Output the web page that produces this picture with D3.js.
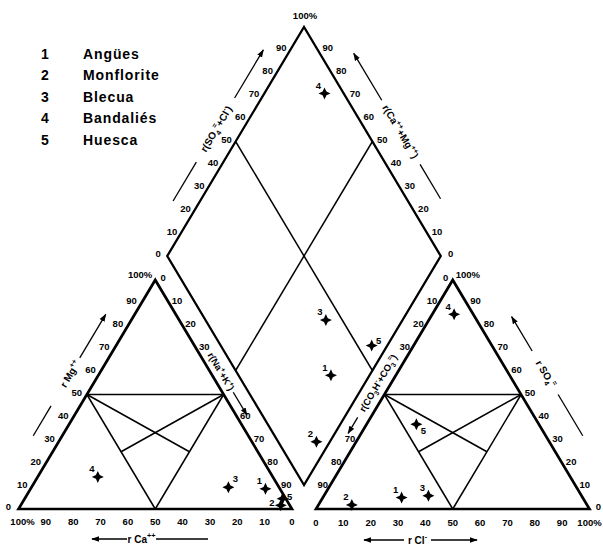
<!DOCTYPE html>
<html><head><meta charset="utf-8">
<script src="https://cdn.jsdelivr.net/npm/d3@7"></script>
<style>html,body{margin:0;padding:0;background:#fff;} svg{display:block;}</style>
</head><body><svg id="chart" width="603" height="545"></svg>
<script>
// ---------------- data ----------------
const sampleIds   = ['1', '2', '3', '4', '5'];
const sampleNames = ['Angües', 'Monflorite', 'Blecua', 'Bandaliés', 'Huesca'];
// cations (% of meq)
const caPct  = [5.3, 3.3, 18.5, 64, 1.2];
const mgPct  = [8.8, 1.6, 9.5, 14, 4.5];
const naKPct = [85.9, 95.1, 72, 22, 94.3];
// anions (% of meq)
const hco3Pct = [66.2, 86, 56, 7, 44.8];
const clPct   = [28.8, 12.2, 38.2, 8, 18.2];
const so4Pct  = [5, 1.8, 5.8, 85, 37];
const tickValues = [0, 10, 20, 30, 40, 50, 60, 70, 80, 90];
const stripTicks = [0, 10, 20, 30, 60, 70, 80, 90];
const stripTicksR = [0, 10, 20, 30, 70, 80, 90];
const pctLabel = '100%';

// ---------------- layout ----------------
const side = 273.5, triH = 229, baseY = 509;
const leftX0 = 18.5, rightX0 = 316;
const dBottomX = 304, dBottomY = 485;
const ANG = Math.atan2(triH, side / 2) * 180 / Math.PI;
const FONT = "'Liberation Sans', Arial, sans-serif";

const svg = d3.select('#chart');
svg.append('defs').append('marker')
  .attr('id', 'arr').attr('viewBox', '0 0 10 10').attr('refX', 9).attr('refY', 5)
  .attr('markerUnits', 'userSpaceOnUse').attr('markerWidth', 8).attr('markerHeight', 8)
  .attr('orient', 'auto-start-reverse')
  .append('path').attr('d', 'M0,1.5 L10,5 L0,8.5 Z').attr('fill', '#000');

const yTri   = d3.scaleLinear().domain([0, 100]).range([baseY, baseY - triH]);
const xLeft  = d3.scaleLinear().domain([0, 100]).range([leftX0, leftX0 + side]);
const xRight = d3.scaleLinear().domain([0, 100]).range([rightX0, rightX0 + side]);
const xDia   = d3.scaleLinear().domain([-100, 100]).range([dBottomX - side / 2, dBottomX + side / 2]);
const yDia   = d3.scaleLinear().domain([0, 200]).range([dBottomY, dBottomY - 2 * triH]);

const cationXY = (na, mg) => [xLeft(na + mg / 2), yTri(mg)];
const anionXY  = (cl, so4) => [xRight(cl + so4 / 2), yTri(so4)];
const diaXY    = (camg, so4cl) => [xDia(so4cl - camg), yDia(so4cl + camg)];

const line = d3.line();
const frame = svg.append('g').attr('fill', 'none').attr('stroke', '#000').attr('stroke-linejoin', 'miter');

// outlines
frame.append('path').attr('d', line([cationXY(0, 0), cationXY(100, 0), cationXY(0, 100)]) + 'Z').attr('stroke-width', 2.7);
frame.append('path').attr('d', line([anionXY(0, 0), anionXY(100, 0), anionXY(0, 100)]) + 'Z').attr('stroke-width', 2.7);
frame.append('path').attr('d', line([diaXY(0, 0), diaXY(100, 0), diaXY(100, 100), diaXY(0, 100)]) + 'Z').attr('stroke-width', 2.3);

// inner lines
const innerC = [
  [[0, 50], [50, 50]], [[0, 50], [50, 0]], [[50, 50], [50, 0]],
  [[0, 50], [50, 25]], [[50, 50], [25, 25]]
];
innerC.forEach(([a, b]) => {
  frame.append('path').attr('d', line([cationXY(...a), cationXY(...b)])).attr('stroke-width', 1.5);
  frame.append('path').attr('d', line([anionXY(...a), anionXY(...b)])).attr('stroke-width', 1.5);
});
frame.append('path').attr('d', line([diaXY(50, 0), diaXY(50, 100)])).attr('stroke-width', 1.5);
frame.append('path').attr('d', line([diaXY(0, 50), diaXY(100, 50)])).attr('stroke-width', 1.5);

// ---------------- tick labels ----------------
const lab = svg.append('g').attr('font-family', FONT).attr('font-weight', 'bold').attr('font-size', 9.5).attr('fill', '#000');
function tlabel(p, dx, dy, txt, anchor) {
  lab.append('text').attr('x', p[0] + dx).attr('y', p[1] + dy + 3.4)
    .attr('text-anchor', anchor || 'middle').text(txt);
}
// left triangle
tickValues.forEach(v => tlabel(cationXY(0, v), -10, -2, v));                  // Mg (left edge)
tickValues.forEach(v => tlabel(cationXY(100 - v, 0), 0, 13, v));              // Ca (bottom)
tlabel(cationXY(0, 0), 4, 13, pctLabel);
tlabel(cationXY(0, 100), -3, -5, pctLabel, 'end');
stripTicks.forEach(v => tlabel(cationXY(v, 100 - v), 8, -2, v));              // Na+K (right edge)
// right triangle
stripTicksR.forEach(v => tlabel(anionXY(0, 100 - v), -7, -2, v));             // HCO3 (left edge)
tickValues.forEach(v => tlabel(anionXY(100 - v, v), 9, -2, v));               // SO4 (right edge)
tlabel(anionXY(0, 100), 3, -5, pctLabel, 'start');
tickValues.forEach(v => tlabel(anionXY(v, 0), 0, 14, v));                     // Cl (bottom)
tlabel(anionXY(100, 0), 0, 14, pctLabel);
// diamond
tickValues.forEach(v => tlabel(diaXY(100, v), -9, -2, v));                    // SO4+Cl
tickValues.forEach(v => tlabel(diaXY(v, 100), 10, -2, v));                    // Ca+Mg
tlabel(diaXY(100, 100), 1, -11, pctLabel);

// ---------------- axis titles ----------------
const T = svg.append('g').attr('font-family', FONT).attr('font-weight', 'bold').attr('fill', '#000');
function rich(sel, parts, size) {
  let shift = 0;
  parts.forEach(([s, kind]) => {
    const target = kind === 'sub' ? size * 0.3 : kind === 'sup' ? -size * 0.42 : 0;
    const ts = sel.append('tspan').text(s).attr('dy', target - shift);
    if (kind) ts.attr('font-size', size * 0.72);
    shift = target;
  });
}
function along(P, Q, t, dx) { return [P[0] + t * (Q[0] - P[0]) + dx, P[1] + t * (Q[1] - P[1])]; }
function edgeTitle(P, Q, dx, tText, ang, parts, segs, size) {
  const c = along(P, Q, tText, dx);
  const txt = T.append('g').attr('transform', `translate(${c[0]},${c[1]}) rotate(${ang})`)
    .append('text').attr('text-anchor', 'middle').attr('y', size * 0.35).attr('font-size', size);
  rich(txt, parts, size);
  segs.forEach(([t0, t1, arrow]) => {
    const p = T.append('path').attr('d', line([along(P, Q, t0, dx), along(P, Q, t1, dx)]))
      .attr('stroke', '#000').attr('stroke-width', 1.3).attr('fill', 'none');
    if (arrow === 'end' || arrow === 'both') p.attr('marker-end', 'url(#arr)');
    if (arrow === 'start' || arrow === 'both') p.attr('marker-start', 'url(#arr)');
  });
}
const Lv = diaXY(100, 0), Rv = diaXY(0, 100), Tv = diaXY(100, 100);
const cA = cationXY(0, 0), cN = cationXY(100, 0), cM = cationXY(0, 100);
const aH = anionXY(0, 0), aC = anionXY(100, 0), aS = anionXY(0, 100);

edgeTitle(Lv, Tv, -27, 0.555, -ANG,
  [['r(SO'], ['4', 'sub'], ['=', 'sup'], ['+Cl'], ['-', 'sup'], [')']],
  [[0.24, 0.41], [0.69, 0.90, 'end']], 10);
edgeTitle(Rv, Tv, 34, 0.543, ANG,
  [['r(Ca'], ['++', 'sup'], ['+Mg'], ['++', 'sup'], [')']],
  [[0.25, 0.40], [0.68, 0.885, 'end']], 10);
edgeTitle(cA, cM, -29, 0.59, -ANG,
  [['r Mg'], ['++', 'sup']],
  [[0.32, 0.45], [0.66, 0.85, 'end']], 10);
edgeTitle(aC, aS, 37, 0.59, ANG,
  [['r SO'], ['4', 'sub'], ['=', 'sup']],
  [[0.32, 0.50], [0.69, 0.84, 'end']], 10);
edgeTitle(cM, cN, 11, 0.40, ANG,
  [['r(Na'], ['+', 'sup'], ['+K'], ['+', 'sup'], [')']],
  [[0.49, 0.59, 'end']], 9.5);
edgeTitle(aS, aH, -13, 0.45, -ANG,
  [['r(CO'], ['3', 'sub'], ['H'], ['-', 'sup'], ['+CO'], ['3', 'sub'], ['=', 'sup'], [')']],
  [[0.60, 0.67, 'end']], 9.5);

// bottom titles
function bottomTitle(x0, x1, xt0, xt1, y, parts, arrows) {
  const seg = (a, b, mk) => {
    const p = T.append('path').attr('d', line([[a, y], [b, y]])).attr('stroke', '#000').attr('stroke-width', 1.3);
    if (mk) p.attr('marker-end', 'url(#arr)');
  };
  seg(xt0, x0, arrows[0]);
  seg(xt1, x1, arrows[1]);
  const txt = T.append('text').attr('x', (xt0 + xt1) / 2).attr('y', y + 3.5).attr('text-anchor', 'middle').attr('font-size', 10);
  rich(txt, parts, 10);
}
bottomTitle(92, 208, 127, 156, 539, [['r Ca'], ['++', 'sup']], [true, false]);
bottomTitle(364, 477, 404, 431, 540, [['r Cl'], ['-', 'sup']], [true, true]);

// ---------------- points ----------------
function starPath(r, ri) {
  let p = '';
  for (let i = 0; i < 8; i++) {
    const a = i * Math.PI / 4 - Math.PI / 2, rr = i % 2 ? ri : r;
    p += (i ? 'L' : 'M') + (rr * Math.cos(a)).toFixed(2) + ',' + (rr * Math.sin(a)).toFixed(2);
  }
  return p + 'Z';
}
const STAR = starPath(6, 2.7);
const nudge = {
  cation: { '3': [7, -8], '2': [-9, -3], '5': [7, -2] },
  diamond: { '5': [7, -5] },
  anion: { '5': [7, 7] }
};
function plotPoints(name, coords) {
  const g = svg.append('g');
  coords.forEach((p, i) => {
    g.append('path').attr('d', STAR).attr('transform', `translate(${p[0]},${p[1]})`).attr('fill', '#000');
    const o = nudge[name][sampleIds[i]] || [-6, -8];
    g.append('text').attr('x', p[0] + o[0]).attr('y', p[1] + o[1] + 3.2)
      .attr('text-anchor', 'middle').attr('font-family', FONT).attr('font-weight', 'bold')
      .attr('font-size', 9.5).text(sampleIds[i]);
  });
}
plotPoints('cation', sampleIds.map((d, i) => cationXY(naKPct[i], mgPct[i])));
plotPoints('anion', sampleIds.map((d, i) => anionXY(clPct[i], so4Pct[i])));
plotPoints('diamond', sampleIds.map((d, i) => diaXY(caPct[i] + mgPct[i], so4Pct[i] + clPct[i])));

// ---------------- legend ----------------
const leg = svg.append('g').attr('font-family', FONT).attr('font-weight', 'bold').attr('font-size', 14);
const legY = d3.scaleLinear().domain([0, 4]).range([53.5, 140]);
sampleIds.forEach((id, i) => {
  leg.append('text').attr('x', 45).attr('y', legY(i) + 5).attr('text-anchor', 'middle').text(id);
  leg.append('text').attr('x', 83).attr('y', legY(i) + 5).attr('letter-spacing', 0.9).text(sampleNames[i]);
});
</script></body></html>
